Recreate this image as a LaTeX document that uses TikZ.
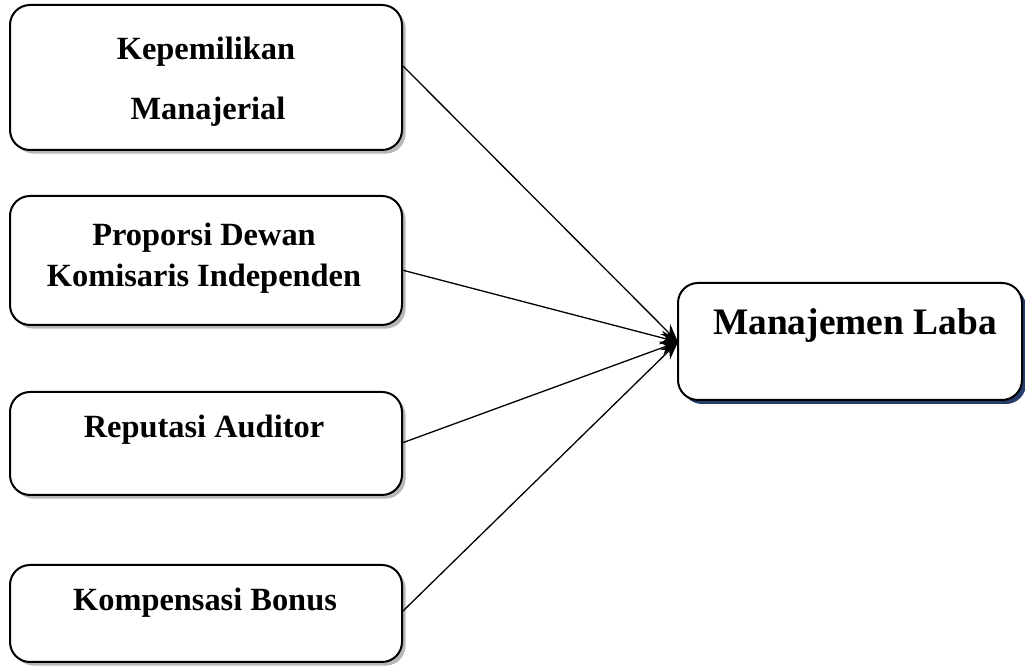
\documentclass[tikz,border=0pt]{standalone}
\usepackage{fontspec}
\setmainfont{Liberation Serif}
\usetikzlibrary{shadows,arrows.meta}
\definecolor{shnavy}{RGB}{40,60,105}
\tikzset{
  x=0.5pt,y=-0.5pt,
  box/.style={draw=black,line width=1pt,rounded corners=10pt,fill=white,inner sep=0pt,
    drop shadow={shadow xshift=1.8pt,shadow yshift=-1.8pt,fill=black!40,opacity=0.7}},
  navybox/.style={draw=black,line width=1pt,rounded corners=10pt,fill=white,inner sep=0pt,
    drop shadow={shadow xshift=2pt,shadow yshift=-2pt,fill=shnavy,opacity=1}},
  lbl/.style={font=\bfseries\fontsize{16.2}{19}\selectfont,inner sep=0pt,anchor=base},
  big/.style={font=\bfseries\fontsize{18.7}{22}\selectfont,inner sep=0pt,anchor=base},
  conn/.style={line width=0.65pt,-{Stealth[length=9pt,width=7pt]}}
}
\begin{document}
\begin{tikzpicture}
\useasboundingbox (0,0) rectangle (1025,667);
% boxes
\node[box,minimum width=196pt,minimum height=72.5pt] (b1) at (206,77.5) {};
\node[box,minimum width=196pt,minimum height=64.5pt] (b2) at (206,260.5) {};
\node[box,minimum width=196pt,minimum height=51.5pt] (b3) at (206,443.5) {};
\node[box,minimum width=196pt,minimum height=48.5pt] (b4) at (206,613.5) {};
\node[navybox,minimum width=172pt,minimum height=58.5pt] (r) at (850,341.5) {};
% texts
\node[lbl] (t1a) at (206,60) {Kepemilikan};
\node[lbl] (t1b) at (208,120) {Manajerial};
\node[lbl] (t2a) at (204,246) {Proporsi Dewan};
\node[lbl] (t2b) at (204,287) {Komisaris Independen};
\node[lbl] (t3) at (204,438) {Reputasi Auditor};
\node[lbl] (t4) at (205,611) {Kompensasi Bonus};
\node[big] (tr) at (855,335) {Manajemen Laba};
% connectors
\coordinate (tip) at (678,342);
\coordinate (s1) at (402,65);
\coordinate (s2) at (402,270);
\coordinate (s3) at (402,443);
\coordinate (s4) at (402,612);
\draw[conn] (s1) -- (tip);
\draw[conn] (s2) -- (tip);
\draw[conn] (s3) -- (tip);
\draw[conn] (s4) -- (tip);
\end{tikzpicture}
\end{document}
